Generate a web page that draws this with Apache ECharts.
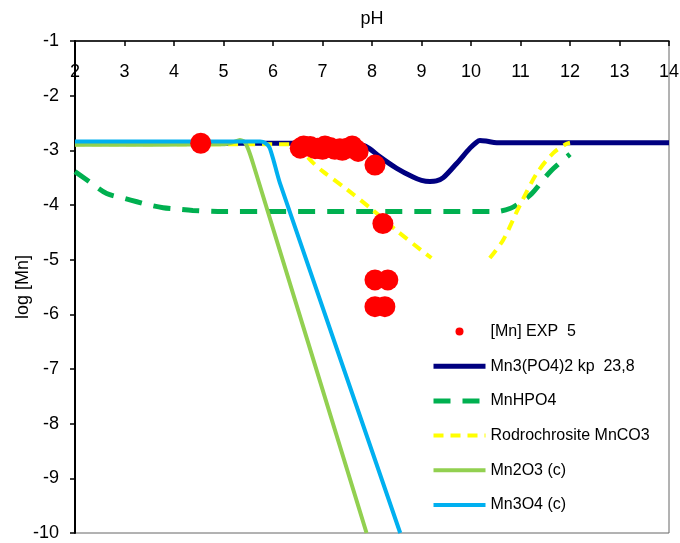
<!DOCTYPE html>
<html>
<head>
<meta charset="utf-8">
<script src="https://cdn.jsdelivr.net/npm/echarts@6/dist/echarts.min.js"></script>
<style>html,body{margin:0;padding:0;background:#fff}#c{width:680px;height:543px}</style>
</head>
<body>
<div id="c"></div>
<script>
// ---- data ----
const expPH   = [4.54, 6.55, 6.62, 6.75, 6.85, 6.9, 7.0, 7.05, 7.15, 7.25, 7.35, 7.4, 7.5, 7.6, 7.65, 7.72, 8.06, 8.22, 8.06, 8.32, 8.06, 8.26];
const expMn   = [-2.87, -2.96, -2.92, -2.93, -2.97, -2.96, -2.98, -2.92, -2.95, -2.98, -2.97, -3.0, -2.96, -2.92, -2.97, -3.02, -3.27, -4.34, -5.37, -5.37, -5.86, -5.86];

const po4PH   = [2, 7.6, 7.8, 7.95, 8.16, 8.5, 8.83, 9.0, 9.17, 9.3, 9.44, 9.71, 9.98, 10.1, 10.18, 10.3, 10.52, 14];
const po4Mn   = [-2.87, -2.87, -2.9, -2.97, -3.12, -3.33, -3.49, -3.55, -3.57, -3.56, -3.5, -3.24, -2.96, -2.86, -2.82, -2.83, -2.86, -2.86];

const hpoPH   = [2, 2.3, 2.64, 3.0, 3.25, 3.5, 3.78, 4.0, 4.38, 5.0, 10.5, 10.8, 11.0, 11.23, 11.6, 12.0];
const hpoMn   = [-3.39, -3.58, -3.79, -3.88, -3.94, -4.0, -4.05, -4.07, -4.10, -4.12, -4.12, -4.06, -3.95, -3.79, -3.39, -3.07];

const rhoPH   = [2, 6.4, 6.6, 6.8, 7.0, 7.5, 8.0, 8.5, 9.0, 9.2, null, 10.38, 10.65, 10.99, 11.33, 11.66, 11.93, 12.0];
const rhoMn   = [-2.89, -2.89, -3.03, -3.22, -3.38, -3.72, -4.08, -4.47, -4.83, -4.97, null, -4.97, -4.64, -4.00, -3.42, -3.05, -2.88, -2.86];

const mn2o3PH = [2, 5.0, 5.2, 5.33, 5.42, 5.5, 5.6, 7.89];
const mn2o3Mn = [-2.90, -2.89, -2.85, -2.81, -2.84, -2.98, -3.25, -10];

const mn3o4PH = [2, 5.74, 5.85, 5.93, 6.01, 6.07, 6.14, 8.57];
const mn3o4Mn = [-2.84, -2.84, -2.87, -2.95, -3.18, -3.38, -3.6, -10];

const xTicks = [2, 3, 4, 5, 6, 7, 8, 9, 10, 11, 12, 13, 14];
const yTicks = [-10, -9, -8, -7, -6, -5, -4, -3, -2, -1];

const names = ['[Mn] EXP  5', 'Mn3(PO4)2 kp  23,8', 'MnHPO4', 'Rodrochrosite MnCO3', 'Mn2O3 (c)', 'Mn3O4 (c)'];

function zip(xs, ys) {
  return xs.map((x, i) => (x === null || ys[i] === null) ? '-' : [x, ys[i]]);
}

const FONT = 'Liberation Sans, Arial, sans-serif';
const chart = echarts.init(document.getElementById('c'), null, {renderer: 'canvas'});

const hideSym = {opacity: 0, borderWidth: 0};

chart.setOption({
  animation: false,
  backgroundColor: '#fff',
  textStyle: {fontFamily: FONT, color: '#000'},
  grid: {left: 75, right: 11, top: 41, bottom: 10, outerBoundsMode: 'none', containLabel: false,
         show: true, borderColor: '#666', borderWidth: 1, backgroundColor: 'transparent'},
  xAxis: {
    type: 'value', position: 'top', min: xTicks[0], max: xTicks[xTicks.length - 1], interval: 1,
    name: 'pH', nameLocation: 'middle', nameGap: 13, nameMoveOverlap: false,
    nameTextStyle: {fontSize: 18, color: '#000', fontFamily: FONT},
    axisLine: {show: true, onZero: false, lineStyle: {color: '#000', width: 1.5}},
    axisTick: {show: true, inside: true, length: 5, lineStyle: {color: '#000', width: 1.5}},
    axisLabel: {inside: true, margin: 22, fontSize: 18, color: '#000', fontFamily: FONT, showMinLabel: true, showMaxLabel: true},
    splitLine: {show: false}
  },
  yAxis: {
    type: 'value', min: yTicks[0], max: yTicks[yTicks.length - 1], interval: 1,
    name: 'log [Mn]', nameLocation: 'middle', nameRotate: 90, nameGap: 43, nameMoveOverlap: false,
    nameTextStyle: {fontSize: 18, color: '#000', fontFamily: FONT},
    axisLine: {show: true, onZero: false, lineStyle: {color: '#000', width: 2}},
    axisTick: {show: true, inside: false, length: 5, lineStyle: {color: '#000', width: 1.5}},
    axisLabel: {margin: 16, fontSize: 18, color: '#000', fontFamily: FONT, showMinLabel: true, showMaxLabel: true},
    splitLine: {show: false}
  },
  legend: {
    orient: 'vertical', left: 426, top: 316.5, itemWidth: 52, itemHeight: 8, itemGap: 14.7,
    textStyle: {fontSize: 16, color: '#000', fontFamily: FONT, lineHeight: 20},
    data: [
      {name: names[0], icon: 'circle'},
      {name: names[1], itemStyle: hideSym, lineStyle: {width: 5}},
      {name: names[2], itemStyle: hideSym, lineStyle: {width: 5}},
      {name: names[3], itemStyle: hideSym, lineStyle: {width: 4}},
      {name: names[4], itemStyle: hideSym, lineStyle: {width: 4}},
      {name: names[5], itemStyle: hideSym, lineStyle: {width: 4}}
    ]
  },
  series: [
    {name: names[1], type: 'line', data: zip(po4PH, po4Mn), symbol: 'none', smooth: 0.3, z: 2,
     lineStyle: {color: '#000080', width: 5}, itemStyle: {color: '#000080'}},
    {name: names[2], type: 'line', data: zip(hpoPH, hpoMn), symbol: 'none', smooth: 0.3, z: 2,
     lineStyle: {color: '#00b050', width: 5, type: [17, 12]}, itemStyle: {color: '#00b050'}},
    {name: names[3], type: 'line', data: zip(rhoPH, rhoMn), symbol: 'none', smooth: 0.3, connectNulls: false, z: 3,
     lineStyle: {color: '#ffff00', width: 4, type: [10, 7]}, itemStyle: {color: '#ffff00'}},
    {name: names[4], type: 'line', data: zip(mn2o3PH, mn2o3Mn), symbol: 'none', smooth: 0.2, z: 4,
     lineStyle: {color: '#92d050', width: 4}, itemStyle: {color: '#92d050'}},
    {name: names[5], type: 'line', data: zip(mn3o4PH, mn3o4Mn), symbol: 'none', smooth: 0.2, z: 5,
     lineStyle: {color: '#00b0f0', width: 4}, itemStyle: {color: '#00b0f0'}},
    {name: names[0], type: 'scatter', data: zip(expPH, expMn), symbol: 'circle', symbolSize: 21, z: 10,
     itemStyle: {color: '#ff0000', opacity: 1}}
  ]
});
</script>
</body>
</html>
